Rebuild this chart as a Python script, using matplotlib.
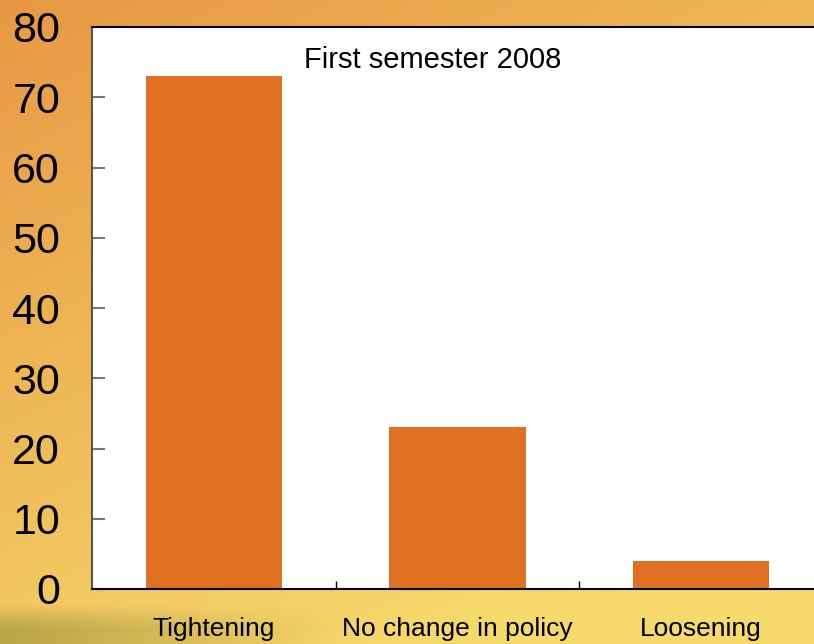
import numpy as np
import matplotlib
matplotlib.use("Agg")
from matplotlib import pyplot as plt

plt.rcParams['font.family'] = ['Liberation Sans', 'DejaVu Sans']

categories = ['Tightening', 'No change in policy', 'Loosening']
values = [73, 23, 4]
y_ticks = [0, 10, 20, 30, 40, 50, 60, 70, 80]
note = 'First semester 2008'

fig = plt.figure(figsize=(8.14, 6.44), dpi=100)

# warm orange -> yellow backdrop
bg = fig.add_axes([0, 0, 1, 1], zorder=-10)
h, w = 64, 82
yy, xx = np.mgrid[0:1:h * 1j, 0:1:w * 1j]
t = np.clip(0.75 * yy + 0.45 * xx, 0, 1)
c0 = np.array([232, 152, 68]) / 255
c1 = np.array([246, 218, 108]) / 255
img = c0[None, None, :] * (1 - t[..., None]) + c1[None, None, :] * t[..., None]
bg.imshow(img, aspect='auto', extent=[0, 1, 0, 1], interpolation='bilinear')
# darker grassy strip at the bottom left
gy, gx = np.mgrid[0:1:8j, 0:1:82j]
grass = np.zeros((8, 82, 4))
grass[..., :3] = np.array([150, 140, 55]) / 255
fade = np.clip(1 - gx / 0.42, 0, 1) * np.clip(gy * 1.6, 0, 1)
grass[..., 3] = 0.6 * fade
bg.imshow(grass, aspect='auto', extent=[0, 1, 0, 0.065], interpolation='bilinear')
bg.set_xlim(0, 1)
bg.set_ylim(0, 1)
bg.axis('off')

ax = fig.add_axes([92 / 814, (644 - 589) / 644, 731 / 814, 562 / 644])
x = np.arange(len(categories))
ax.bar(x, values, width=0.56, color='#E07022', zorder=2)
ax.set_xlim(-0.5, 2.5)
ax.set_ylim(0, 80)
ax.set_facecolor('white')

ax.set_yticks(y_ticks)
ax.set_yticklabels([str(v) for v in y_ticks], fontsize=31)
ax.tick_params(axis='y', direction='in', length=9, width=1.5, color='#777777', pad=23)

ax.set_xticks([0.5, 1.5])
ax.set_xticklabels([])
ax.set_xticks(x, minor=True)
ax.set_xticklabels(categories, minor=True, fontsize=19)
ax.tick_params(axis='x', which='major', direction='in', length=6, width=1, color='black')
ax.tick_params(axis='x', which='minor', length=0, pad=20)

for s in ['top', 'bottom']:
    ax.spines[s].set_color('black')
    ax.spines[s].set_linewidth(1.5)
ax.spines['left'].set_color('#555555')
ax.spines['left'].set_linewidth(1.5)
ax.spines['right'].set_visible(False)

ax.text(0.9, 75.3, note, fontsize=21, ha='center', va='center')

fig.savefig('out.png', dpi=100)
